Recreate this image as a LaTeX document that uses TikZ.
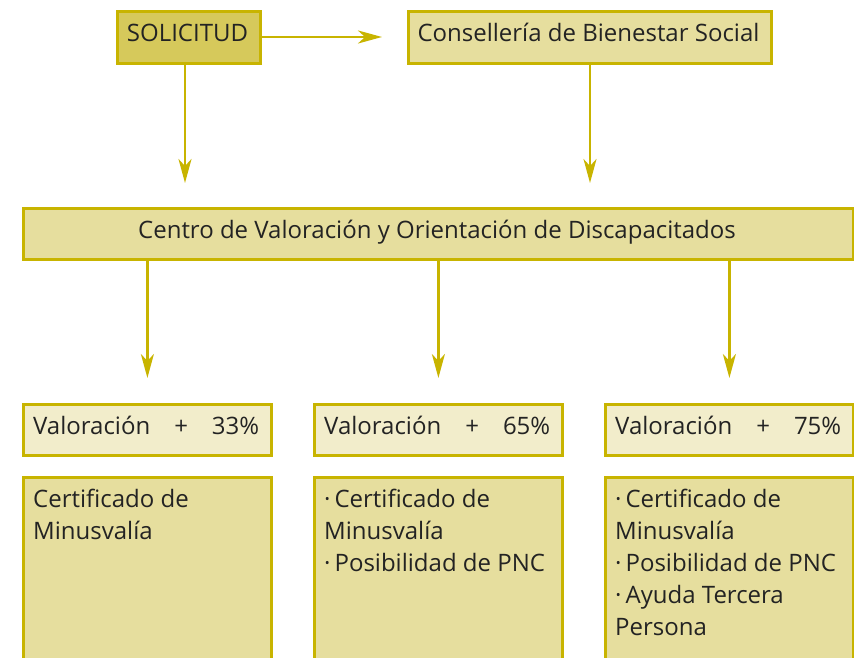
\documentclass[tikz,border=0pt]{standalone}
\usepackage{fontspec}
\setmainfont{Open Sans}
\usetikzlibrary{arrows.meta,calc}
\definecolor{bord}{HTML}{C8B400}
\definecolor{darkfill}{HTML}{D6C95B}
\definecolor{midfill}{HTML}{E6DE9E}
\definecolor{lightfill}{HTML}{F2EDCB}
\definecolor{txt}{HTML}{232323}
\begin{document}
\begin{tikzpicture}[x=1pt,y=-1pt,
  box/.style={draw=bord,line width=2.8pt,inner sep=0pt,anchor=north west},
  lbl/.style={text=txt,font=\fontsize{24}{32}\selectfont,inner sep=0pt},
  arr/.style={draw=bord,line width=2.6pt,-{Stealth[length=24pt,width=13pt,inset=7pt]}},
  ]
\useasboundingbox (0,0) rectangle (854,658);
\clip (0,0) rectangle (854,658);
% top row
\node[box,fill=darkfill,minimum width=143pt,minimum height=52pt] (sol) at (116,10) {};
\node[lbl,anchor=base] (solt) at (187.5,42) {SOLICITUD};
\node[box,fill=midfill,minimum width=363pt,minimum height=52pt] (con) at (407,10) {};
\node[lbl,anchor=base] (cont) at (588.5,42) {Consellería de Bienestar Social};
% centro
\node[box,fill=midfill,minimum width=830pt,minimum height=51pt] (cen) at (22,207) {};
\node[lbl,anchor=base] (cent) at (437,238) {Centro de Valoración y Orientación de Discapacitados};
% valoracion boxes
\foreach \i/\x/\p in {1/22/33,2/313/65,3/604/75}{
  \node[box,fill=lightfill,minimum width=248pt,minimum height=51pt] (val\i) at (\x,403) {};
  \node[lbl,anchor=base west] (valt\i) at (\x+11,434) {Valoración\hspace{24pt}+\hspace{24pt}\p\%};
  \node[box,fill=midfill,minimum width=248pt,minimum height=230pt] (res\i) at (\x,476) {};
}
\node[lbl,anchor=north west,align=left] (rest1) at ($(res1.north west)+(11,13)$) {Certificado de\\Minusvalía};
\node[lbl,anchor=north west,align=left] (rest2) at ($(res2.north west)+(11,13)$) {·\,Certificado de\\Minusvalía\\·\,Posibilidad de PNC};
\node[lbl,anchor=north west,align=left] (rest3) at ($(res3.north west)+(11,13)$) {·\,Certificado de\\Minusvalía\\·\,Posibilidad de PNC\\·\,Ayuda Tercera\\Persona};
% arrow end points
\coordinate (s1) at (185,62);
\coordinate (s2) at (590,62);
\coordinate (e0) at (382,37);
\coordinate (e1) at (185,183);
\coordinate (e2) at (590,183);
% arrows
\draw[arr] (sol.east |- e0) -- (e0);
\draw[arr] (s1) -- (e1);
\draw[arr] (s2) -- (e2);
\foreach \i in {1,2,3}{
  \draw[arr,shorten >=25pt] (val\i.north |- cen.south) -- (val\i.north);
}
\end{tikzpicture}
\end{document}
